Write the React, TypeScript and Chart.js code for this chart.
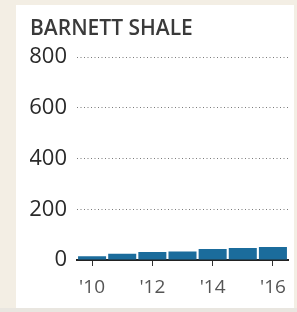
import React, { useEffect, useRef } from "react";
import { Chart, registerables } from "chart.js";

Chart.register(...registerables);

const title = "BARNETT SHALE";
const years = ["'10", "'11", "'12", "'13", "'14", "'15", "'16"];
const values = [15, 25, 32, 34, 43, 47, 51];
const yMin = 0;
const yMax = 800;
const yStep = 200;

const FONT = "'Open Sans', 'DejaVu Sans', sans-serif";

export default function App() {
  const ref = useRef<HTMLCanvasElement | null>(null);

  useEffect(() => {
    if (!ref.current) return;
    const chart = new Chart(ref.current, {
      type: "bar",
      data: {
        labels: years,
        datasets: [
          {
            data: values,
            backgroundColor: "#1b6c9c",
            borderWidth: 0,
            categoryPercentage: 1,
            barPercentage: 0.93,
          },
        ],
      },
      options: {
        responsive: false,
        animation: false,
        layout: { padding: { left: 30, right: 9, top: 0, bottom: 0 } },
        plugins: {
          legend: { display: false },
          tooltip: { enabled: false },
          title: {
            display: true,
            text: title,
            align: "start",
            color: "#3a3a3a",
            font: { family: FONT, size: 21, weight: "600" },
            padding: { top: 16, bottom: 16 },
          },
        },
        scales: {
          x: {
            z: 1,
            afterFit: (s: any) => {
              s.height = 52;
            },
            grid: {
              display: true,
              offset: false,
              drawOnChartArea: false,
              drawTicks: true,
              tickLength: 6,
              tickWidth: 1,
              tickColor: (ctx: any) => (ctx.index % 2 === 0 ? "#333333" : "rgba(0,0,0,0)"),
            },
            border: { display: true, color: "#222222", width: 2 },
            ticks: {
              autoSkip: false,
              maxRotation: 0,
              padding: 10,
              color: "#555555",
              font: { family: FONT, size: 19 },
              callback: (_v: any, i: number) => (i % 2 === 0 ? years[i] : ""),
            },
          },
          y: {
            min: yMin,
            max: yMax,
            afterFit: (s: any) => {
              s.width = 47;
            },
            grid: {
              drawTicks: false,
              lineWidth: 1,
              color: (ctx: any) => (ctx.tick && ctx.tick.value === 0 ? "rgba(0,0,0,0)" : "#7a7a7a"),
            },
            border: { display: false, dash: [1, 2.5] },
            ticks: {
              stepSize: yStep,
              padding: 10,
              color: "#2a2a2a",
              font: { family: FONT, size: 22 },
            },
          },
        },
      },
    });
    return () => chart.destroy();
  }, []);

  return (
    <div style={{ position: "fixed", left: 0, top: 0, width: 297, height: 312, background: "#f3eee4" }}>
      <div style={{ position: "absolute", left: 16, top: 5, width: 278, height: 303, background: "#ffffff" }} />
      <div style={{ position: "absolute", left: 0, top: 308, width: 297, height: 4, background: "#e9e6e0" }} />
      <canvas ref={ref} width={297} height={312} style={{ position: "absolute", left: 0, top: 0 }} />
    </div>
  );
}
